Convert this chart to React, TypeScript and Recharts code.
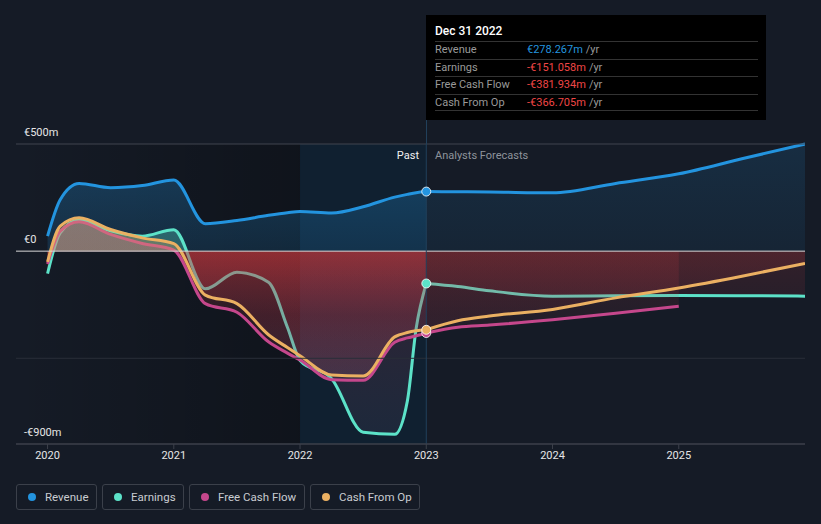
import React from "react";
import {
  Area,
  ComposedChart,
  ReferenceArea,
  ReferenceDot,
  ReferenceLine,
  XAxis,
  YAxis,
} from "recharts";

// reporting periods (decimal years), past up to 2023, analyst forecasts after
const periods = [
  2020, 2020.1, 2020.25, 2020.5, 2020.75, 2021, 2021.25, 2021.5, 2021.75, 2021.9,
  2022, 2022.25, 2022.5, 2022.75, 2022.85, 2022.92, 2023, 2023.25, 2023.5, 2024,
  2024.5, 2025, 2025.5, 2026,
];

// values in € millions
const revenue = [
  70, 240, 316, 296, 306, 332, 128, 143, 167, 179, 185, 178, 207, 252, 265, 273,
  278, 277, 276, 272, 316, 361, 431, 500,
];
const earnings = [
  -105, 85, 145, 95, 70, 100, -176, -98, -145, -355, -510, -595, -845, -855, -700,
  -360, -151, -165, -185, -210, -208, -207, -208, -210,
];
const freeCashFlow = [
  -60, 93, 137, 78, 36, 5, -245, -285, -423, -476, -508, -600, -603, -425, -405,
  -395, -382, -355, -345, -320, -290, -257, null, null,
];
const cashFromOp = [
  -50, 117, 156, 101, 62, 35, -205, -245, -390, -450, -488, -578, -583, -400, -380,
  -372, -367, -325, -303, -272, -218, -172, -117, -57,
];

const xTicks = [2020, 2021, 2022, 2023, 2024, 2025];
const yTicks = [-900, 0, 500];
const lastReported = 2023;

const series = [
  { key: "rev", name: "Revenue", color: "#2394df", values: revenue },
  { key: "earn", name: "Earnings", color: "#5ce2c8", values: earnings },
  { key: "fcf", name: "Free Cash Flow", color: "#c5478c", values: freeCashFlow },
  { key: "cfo", name: "Cash From Op", color: "#ebb062", values: cashFromOp },
];

const tooltipRows = [
  { label: "Revenue", value: "€278.267m", color: "#2394df" },
  { label: "Earnings", value: "-€151.058m", color: "#ef4646" },
  { label: "Free Cash Flow", value: "-€381.934m", color: "#ef4646" },
  { label: "Cash From Op", value: "-€366.705m", color: "#ef4646" },
];

const legendWidths = [81, 82, 116, 110];

const Y_MIN = -900;
const Y_MAX = 500;
const PLOT_TOP = 144;
const PLOT_BOTTOM = 444;
const zeroOff = Y_MAX / (Y_MAX - Y_MIN);
const midOff = (Y_MAX + 300) / (Y_MAX - Y_MIN);

const data = periods.map((t, i) => {
  const row: Record<string, number | null> = { t };
  series.forEach((s) => {
    const v = s.values[i];
    row[s.key + "Past"] = t <= lastReported ? v : null;
    row[s.key + "Fc"] = t >= lastReported ? v : null;
  });
  return row;
});

const fmtMoney = (v: number) =>
  v === 0 ? "€0" : `${v < 0 ? "-" : ""}€${Math.abs(v)}m`;

const lineColor = (v: number) =>
  v === 0 ? "#d9d9d9" : v === Y_MAX ? "#40454f" : v === Y_MIN ? "#3c414b" : "#2a2f39";

// fill colour follows the sign: own colour above zero, red below it
function splitGradient(id: string, color: string, pos: number, neg: number[]) {
  return (
    <linearGradient
      id={id}
      gradientUnits="userSpaceOnUse"
      x1={0}
      y1={PLOT_TOP}
      x2={0}
      y2={PLOT_BOTTOM}
    >
      <stop offset={0} stopColor={color} stopOpacity={pos} />
      <stop offset={zeroOff} stopColor={color} stopOpacity={pos} />
      <stop offset={zeroOff} stopColor="#d23a3e" stopOpacity={neg[0]} />
      <stop offset={midOff} stopColor="#b0384a" stopOpacity={neg[1]} />
      <stop offset={1} stopColor="#9a7aa6" stopOpacity={neg[2]} />
    </linearGradient>
  );
}

export default function App() {
  const idx = periods.indexOf(lastReported);

  return (
    <div
      style={{
        position: "absolute",
        top: 0,
        left: 0,
        width: 821,
        height: 524,
        background: "#151b26",
        fontFamily: "Roboto, sans-serif",
        overflow: "hidden",
      }}
    >
      <ComposedChart
        width={821}
        height={524}
        data={data}
        margin={{ top: PLOT_TOP, right: 16, left: 16, bottom: 50 }}
      >
        <defs>
          <linearGradient id="pastShade" x1="0" y1="0" x2="1" y2="0">
            <stop offset="0" stopColor="#000" stopOpacity={0} />
            <stop offset="1" stopColor="#000" stopOpacity={0.28} />
          </linearGradient>
          <linearGradient
            id="revPastFill"
            gradientUnits="userSpaceOnUse"
            x1={0}
            y1={PLOT_TOP}
            x2={0}
            y2={PLOT_TOP + (PLOT_BOTTOM - PLOT_TOP) * zeroOff}
          >
            <stop offset="0" stopColor="#2394df" stopOpacity={0.32} />
            <stop offset="1" stopColor="#2394df" stopOpacity={0.16} />
          </linearGradient>
          <linearGradient
            id="revFcFill"
            gradientUnits="userSpaceOnUse"
            x1={0}
            y1={PLOT_TOP}
            x2={0}
            y2={PLOT_TOP + (PLOT_BOTTOM - PLOT_TOP) * zeroOff}
          >
            <stop offset="0" stopColor="#2394df" stopOpacity={0.15} />
            <stop offset="1" stopColor="#2394df" stopOpacity={0.08} />
          </linearGradient>
          {series.slice(1).map((s) => (
            <React.Fragment key={s.key}>
              {splitGradient(s.key + "PastFill", s.color, 0.3, [0.3, 0.17, 0.09])}
              {splitGradient(s.key + "FcFill", s.color, 0.15, [0.16, 0.1, 0.06])}
            </React.Fragment>
          ))}
        </defs>

        <XAxis
          dataKey="t"
          type="number"
          domain={[2019.75, 2026]}
          ticks={xTicks}
          allowDataOverflow
          height={30}
          axisLine={{ stroke: "#3c414b" }}
          tickLine={{ stroke: "#3c414b" }}
          tickSize={5}
          tick={{ fill: "#e6e6e6", fontSize: 11 }}
        />
        <YAxis type="number" domain={[Y_MIN, Y_MAX]} ticks={yTicks} hide />

        <ReferenceArea
          x1={2019.75}
          x2={2022}
          y1={Y_MIN}
          y2={Y_MAX}
          fill="url(#pastShade)"
          fillOpacity={1}
          stroke="none"
        />
        <ReferenceArea
          x1={2022}
          x2={lastReported}
          y1={Y_MIN}
          y2={Y_MAX}
          fill="#0a2841"
          fillOpacity={0.4}
          stroke="none"
        />

        {series.map((s) => [
          <Area
            key={s.key + "Past"}
            dataKey={s.key + "Past"}
            type="monotone"
            stroke={s.color}
            strokeWidth={3}
            fill={`url(#${s.key}PastFill)`}
            fillOpacity={1}
            dot={false}
            activeDot={false}
            isAnimationActive={false}
          />,
          <Area
            key={s.key + "Fc"}
            dataKey={s.key + "Fc"}
            type="monotone"
            stroke={s.color}
            strokeWidth={3}
            fill={`url(#${s.key}FcFill)`}
            fillOpacity={1}
            dot={false}
            activeDot={false}
            isAnimationActive={false}
          />,
        ])}

        <ReferenceLine y={-500} stroke="#2a2f39" />
        {yTicks.map((v) => (
          <ReferenceLine
            key={v}
            y={v}
            stroke={lineColor(v)}
            label={(props: any) => (
              <text
                x={props.viewBox.x + 8}
                y={props.viewBox.y - 8}
                fill="#e6e6e6"
                fontSize={11}
                fontFamily="Roboto, sans-serif"
              >
                {fmtMoney(v)}
              </text>
            )}
          />
        ))}
        <ReferenceLine x={lastReported} stroke="#21405b" />

        {series.map((s) => (
          <ReferenceDot
            key={s.key + "Dot"}
            x={lastReported}
            y={s.values[idx] as number}
            r={4.5}
            fill={s.color}
            stroke="#ffffff"
            strokeOpacity={0.8}
            strokeWidth={1}
          />
        ))}
      </ComposedChart>

      {/* cursor line running up to the tooltip */}
      <div
        style={{
          position: "absolute",
          left: 426,
          top: 120,
          width: 1,
          height: 24,
          background: "#21405b",
        }}
      />

      {/* tooltip */}
      <div
        style={{
          position: "absolute",
          left: 426,
          top: 15,
          width: 340,
          height: 105,
          background: "#000",
          padding: "8px 8px 0 9px",
          boxSizing: "border-box",
          fontSize: 11,
        }}
      >
        <div
          style={{
            height: 18,
            lineHeight: "16px",
            color: "#fff",
            fontSize: 12,
            fontWeight: 500,
          }}
        >
          Dec 31 2022
        </div>
        {tooltipRows.map((r, i) => (
          <div
            key={r.label}
            style={{
              display: "flex",
              height: 17.5,
              lineHeight: "16.5px",
              borderTop: "1px solid #333",
              borderBottom: i === tooltipRows.length - 1 ? "1px solid #333" : "none",
              boxSizing: "border-box",
            }}
          >
            <span style={{ width: 92, color: "#9a9a9a" }}>{r.label}</span>
            <span style={{ color: r.color }}>{r.value}</span>
            <span style={{ color: "#9a9a9a", marginLeft: 3 }}>/yr</span>
          </div>
        ))}
      </div>

      <div
        style={{
          position: "absolute",
          left: 360,
          width: 59,
          top: 149,
          textAlign: "right",
          fontSize: 11,
          color: "#f0f0f0",
        }}
      >
        Past
      </div>
      <div
        style={{
          position: "absolute",
          left: 435,
          top: 149,
          fontSize: 11,
          color: "#8e939b",
        }}
      >
        Analysts Forecasts
      </div>

      {/* legend */}
      <div
        style={{
          position: "absolute",
          left: 16,
          top: 484,
          display: "flex",
          gap: 5,
        }}
      >
        {series.map((s, i) => (
          <div
            key={s.key}
            style={{
              width: legendWidths[i],
              height: 26,
              boxSizing: "border-box",
              border: "1px solid #3b404a",
              borderRadius: 3,
              display: "flex",
              alignItems: "center",
              paddingLeft: 11,
              fontSize: 11.5,
              color: "#c9ccd1",
            }}
          >
            <span
              style={{
                width: 8,
                height: 8,
                borderRadius: 4,
                background: s.color,
                marginRight: 9,
              }}
            />
            {s.name}
          </div>
        ))}
      </div>
    </div>
  );
}
